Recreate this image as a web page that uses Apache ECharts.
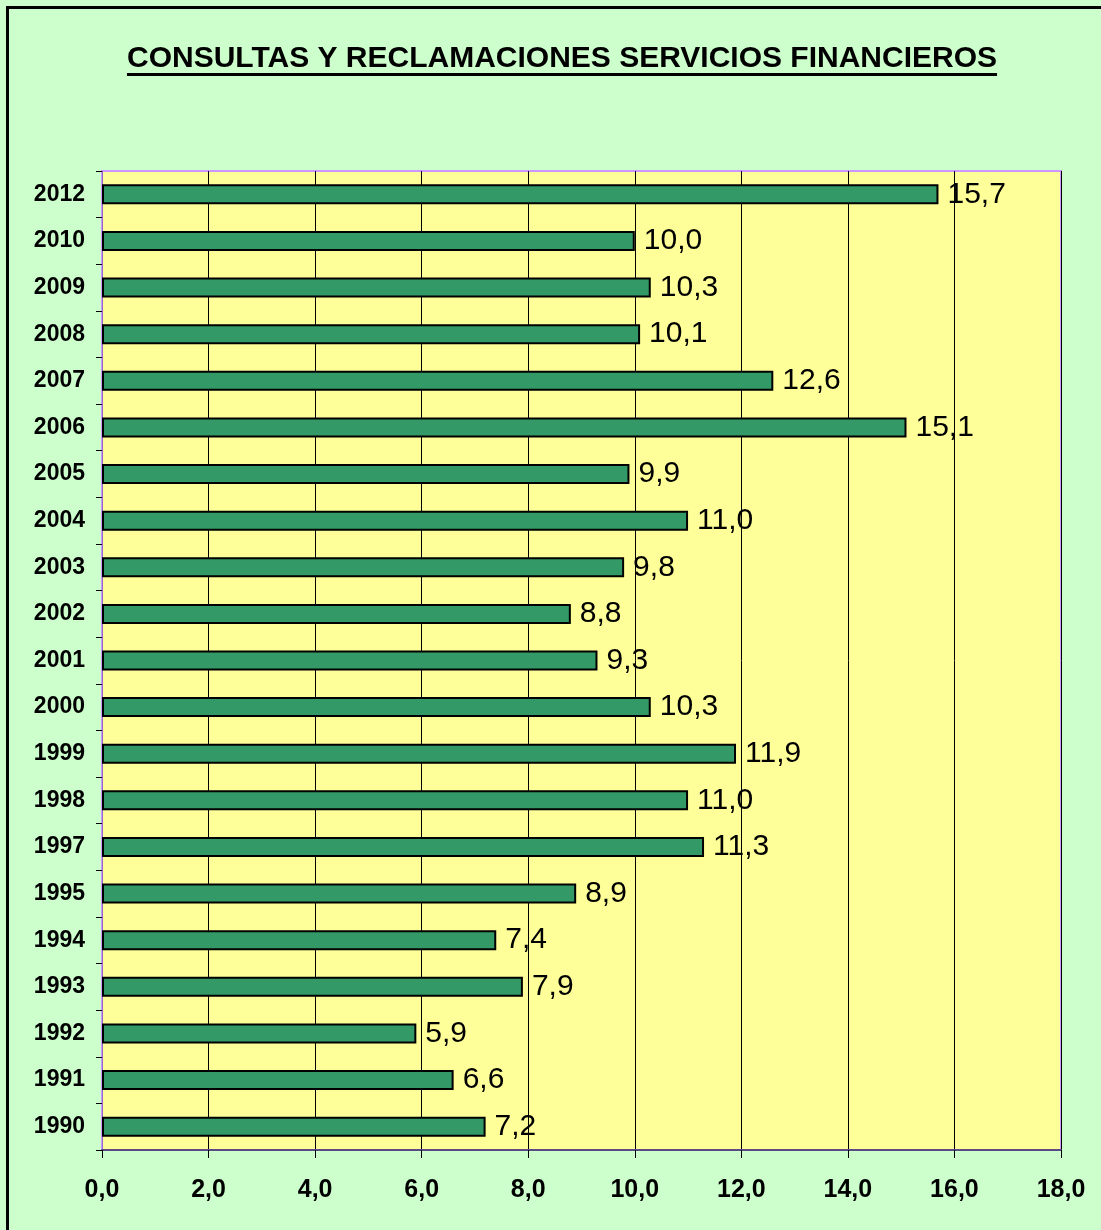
<!DOCTYPE html>
<html>
<head>
<meta charset="utf-8">
<script src="https://cdn.jsdelivr.net/npm/echarts@6/dist/echarts.min.js"></script>
<style>
  html, body { margin: 0; padding: 0; background: #ccffcc; }
  #chart { width: 1101px; height: 1230px; }
</style>
</head>
<body>
<div id="chart"></div>
<script>
// years from bottom to top (ECharts draws the first category at the bottom)
const years = ['1990', '1991', '1992', '1993', '1994', '1995', '1997', '1998', '1999', '2000',
  '2001', '2002', '2003', '2004', '2005', '2006', '2007', '2008', '2009', '2010', '2012']
const values = [7.2, 6.6, 5.9, 7.9, 7.4, 8.9, 11.3, 11.0, 11.9, 10.3,
  9.3, 8.8, 9.8, 11.0, 9.9, 15.1, 12.6, 10.1, 10.3, 10.0, 15.7]
const xTicks = [0, 2, 4, 6, 8, 10, 12, 14, 16, 18]

const titleText = 'CONSULTAS Y RECLAMACIONES SERVICIOS FINANCIEROS'
const titleFont = 'bold 30px "Liberation Sans", Arial, sans-serif'

// ancho del título para la línea de subrayado
const ctx = document.createElement('canvas').getContext('2d')
ctx.font = titleFont
const titleW = ctx.measureText(titleText).width
const titleCx = 562

const fmt = v => v.toFixed(1).replace('.', ',')

const chart = echarts.init(document.getElementById('chart'))

const option = {
  backgroundColor: '#ccffcc',
  animation: false,
  graphic: [
    {
      type: 'rect',
      shape: { x: 7.5, y: 7.5, width: 1110, height: 1240 },
      style: { fill: 'none', stroke: '#000', lineWidth: 3 },
      z: 100
    },
    {
      type: 'text',
      x: titleCx,
      y: 59,
      style: {
        text: titleText,
        font: titleFont,
        fill: '#000',
        align: 'center',
        verticalAlign: 'middle'
      }
    },
    {
      type: 'line',
      shape: { x1: titleCx - titleW / 2, y1: 74.5, x2: titleCx + titleW / 2, y2: 74.5 },
      style: { stroke: '#000', lineWidth: 3 }
    }
  ],
  grid: {
    left: 102,
    top: 171,
    right: 40,
    bottom: 80,
    show: true,
    backgroundColor: '#ffff99',
    borderColor: '#cc99ff',
    borderWidth: 2
  },
  xAxis: {
    type: 'value',
    min: 0,
    max: 18,
    interval: 2,
    axisLine: { show: true, lineStyle: { color: '#5c4a85', width: 2 } },
    axisTick: { show: true, length: 8, lineStyle: { color: '#000', width: 1 } },
    splitLine: { show: true, lineStyle: { color: '#000', width: 1 } },
    axisLabel: {
      margin: 28,
      color: '#000',
      fontFamily: '"Liberation Sans", Arial, sans-serif',
      fontWeight: 'bold',
      fontSize: 25,
      formatter: v => xTicks.includes(v) ? fmt(v) : ''
    }
  },
  yAxis: {
    type: 'category',
    data: years,
    axisLine: { show: true, lineStyle: { color: '#9966cc', width: 1 } },
    axisTick: { show: true, length: 6, lineStyle: { color: '#000', width: 1 } },
    splitLine: { show: false },
    axisLabel: {
      margin: 17,
      color: '#000',
      fontFamily: '"Liberation Sans", Arial, sans-serif',
      fontWeight: 'bold',
      fontSize: 23
    }
  },
  series: [
    {
      type: 'bar',
      data: values,
      barWidth: 20,
      itemStyle: { color: '#339966', borderColor: '#000', borderWidth: 2 },
      label: {
        show: true,
        position: 'right',
        distance: 9,
        color: '#000',
        fontFamily: '"Liberation Sans", Arial, sans-serif',
        fontSize: 30,
        formatter: p => fmt(p.value)
      }
    }
  ]
}

chart.setOption(option)
</script>
</body>
</html>
